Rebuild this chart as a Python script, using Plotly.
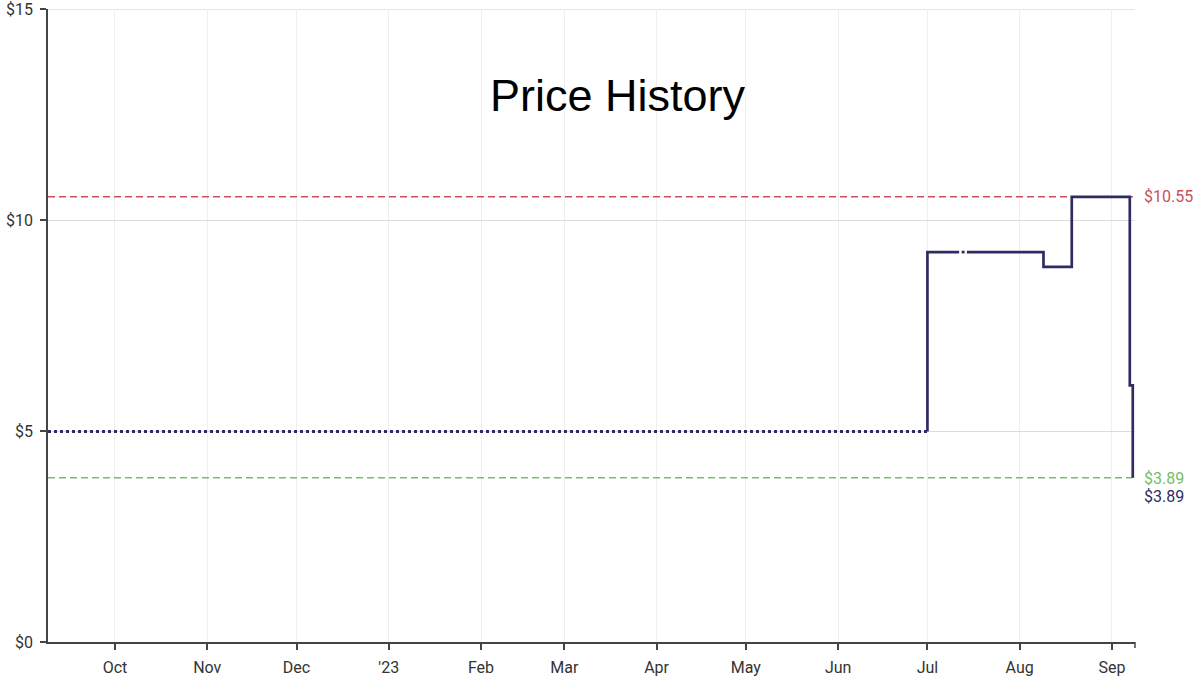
import plotly.graph_objects as go

# ---- data ----
unknown_dates = ["2022-09-08 12:00", "2023-07-01"]
unknown_prices = [4.99, 4.99]

price_dates = ["2023-07-01", "2023-07-01", "2023-07-11 16:00", None,
               "2023-07-12 12:00", "2023-07-13 12:00", None,
               "2023-07-14 06:00", "2023-08-09", "2023-08-18 12:00",
               "2023-09-07", "2023-09-08"]
price_values = [4.99, 9.24, 9.24, None,
                9.24, 9.24, None,
                9.24, 8.89, 10.55,
                6.08, 3.89]

highest_price = 10.55
lowest_price = 3.89
current_price = 3.89

tick_dates = ["2022-10-01", "2022-11-01", "2022-12-01", "2023-01-01", "2023-02-01",
              "2023-03-01", "2023-04-01", "2023-05-01", "2023-06-01", "2023-07-01",
              "2023-08-01", "2023-09-01"]
tick_labels = ["Oct", "Nov", "Dec", "'23", "Feb", "Mar", "Apr", "May", "Jun", "Jul",
               "Aug", "Sep"]
y_ticks = [0, 5, 10, 15]
y_labels = ["$0", "$5", "$10", "$15"]
y_max = 15

x_range = ["2022-09-08 12:00", "2023-09-08 18:00"]

NAVY = "#2e2d63"
RED = "#c8505a"
GREEN = "#74c06a"

fig = go.Figure()

fig.add_trace(go.Scatter(
    x=[x_range[0], x_range[1]], y=[highest_price, highest_price], mode="lines",
    line=dict(color=RED, width=1.5, dash="7px,4px"), hoverinfo="skip", showlegend=False))
fig.add_trace(go.Scatter(
    x=[x_range[0], "2023-09-08"], y=[lowest_price, lowest_price], mode="lines",
    line=dict(color=GREEN, width=1.5, dash="7px,4px"), hoverinfo="skip", showlegend=False))

fig.add_trace(go.Scatter(
    x=unknown_dates, y=unknown_prices, mode="lines",
    line=dict(color=NAVY, width=3, dash="dot"), showlegend=False))
fig.add_trace(go.Scatter(
    x=price_dates, y=price_values, mode="lines", connectgaps=False,
    line=dict(color=NAVY, width=2.7, shape="hv"), showlegend=False))

fig.add_annotation(x=0.524, y=0.864, xref="paper", yref="paper", text="Price History",
                   showarrow=False, yanchor="middle", xanchor="center",
                   font=dict(family="Liberation Sans", size=45, color="#000"))

fig.add_annotation(x=1.0, y=highest_price, xref="paper", yref="y", xanchor="left",
                   yanchor="middle", xshift=7, text="$%.2f" % highest_price, showarrow=False,
                   font=dict(family="Roboto", size=16, color=RED))
fig.add_annotation(x=1.0, y=lowest_price, xref="paper", yref="y", xanchor="left",
                   yanchor="middle", xshift=7, yshift=-1, text="$%.2f" % lowest_price,
                   showarrow=False, font=dict(family="Roboto", size=16, color=GREEN))
fig.add_annotation(x=1.0, y=lowest_price, xref="paper", yref="y", xanchor="left",
                   yanchor="middle", xshift=7, yshift=-19, text="$%.2f" % current_price,
                   showarrow=False, font=dict(family="Roboto", size=16, color=NAVY))

# top gridline (at range end) and end tick at right edge of x axis
fig.add_shape(type="line", xref="paper", yref="y", x0=0, x1=1, y0=y_max, y1=y_max,
              line=dict(color="#dcdcdc", width=1.5), layer="below")
fig.add_shape(type="line", xref="paper", yref="paper", x0=1, x1=1, y0=0, y1=-0.0095,
              line=dict(color="#444", width=1.5))

fig.update_layout(
    width=1200, height=681,
    margin=dict(l=48, r=65, t=9, b=39, autoexpand=False),
    plot_bgcolor="white", paper_bgcolor="white",
    font=dict(family="Roboto", size=16, color="#333"),
    xaxis=dict(range=x_range, tickvals=tick_dates, ticktext=tick_labels,
               showgrid=True, gridcolor="#efefef", gridwidth=1,
               showline=True, linecolor="#444", linewidth=1.5,
               ticks="outside", ticklen=6, tickcolor="#444", tickwidth=1.5,
               ticklabelstandoff=4, ticklabeloverflow="allow",
               zeroline=False, automargin=False, tickfont=dict(size=16, color="#333")),
    yaxis=dict(range=[0, y_max], tickvals=y_ticks, ticktext=y_labels,
               showgrid=True, gridcolor="#dcdcdc", gridwidth=1,
               showline=True, linecolor="#444", linewidth=1.5,
               ticks="outside", ticklen=6, tickcolor="#444", tickwidth=1.5,
               ticklabelstandoff=4, ticklabeloverflow="allow",
               zeroline=False, automargin=False, tickfont=dict(size=16, color="#333")),
)

fig.write_html("out.html", config={"displayModeBar": False},
               post_script="document.body.style.margin='0';")
